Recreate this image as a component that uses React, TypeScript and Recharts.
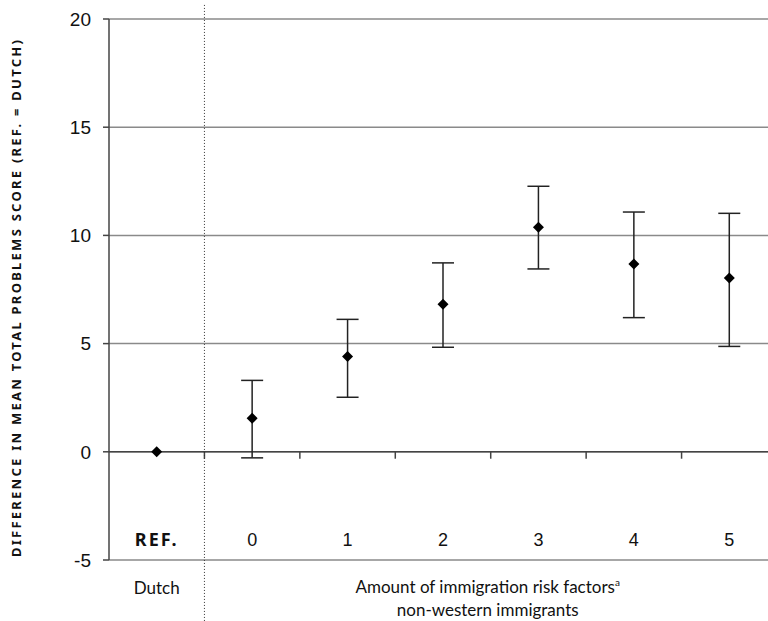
import React from "react";
import {
  ComposedChart,
  Scatter,
  XAxis,
  YAxis,
  CartesianGrid,
  ReferenceLine,
  ErrorBar,
} from "recharts";

// categories (x positions 0..6)
const categoryLabels = ["REF.", "0", "1", "2", "3", "4", "5"];
const categoryPositions = [0, 1, 2, 3, 4, 5, 6];

// reference group (Dutch)
const refValues = [0];

// non-western immigrants by amount of immigration risk factors
const groupMeans = [1.55, 4.4, 6.82, 10.38, 8.68, 8.03];
const groupLower = [-0.28, 2.52, 4.83, 8.45, 6.2, 4.87];
const groupUpper = [3.3, 6.12, 8.73, 12.27, 11.08, 11.02];

const yTicks = [-5, 0, 5, 10, 15, 20];
const boundaries = [0.5, 1.5, 2.5, 3.5, 4.5, 5.5];

const yAxisTitle = "DIFFERENCE IN MEAN TOTAL PROBLEMS SCORE (REF. = DUTCH)";
const refGroupLabel = "Dutch";
const groupTitleLine1 = "Amount of immigration risk factors";
const groupTitleSup = "a";
const groupTitleLine2 = "non-western immigrants";

const refData = refValues.map((v, i) => ({ x: categoryPositions[i], y: v }));
const groupData = groupMeans.map((m, i) => ({
  x: categoryPositions[i + 1],
  y: m,
  err: [m - groupLower[i], groupUpper[i] - m],
}));

const Diamond = (props: any) => {
  const { cx, cy } = props;
  if (cx == null || cy == null) return null;
  const r = 5.5;
  return (
    <polygon
      points={`${cx},${cy - r} ${cx + r},${cy} ${cx},${cy + r} ${cx - r},${cy}`}
      fill="#000"
    />
  );
};

const XTick = (props: any) => {
  const { x, y, payload } = props;
  const label = categoryLabels[payload.value];
  const isRef = payload.value === 0;
  return (
    <g>
      <text
        x={x}
        y={y - 22}
        textAnchor="middle"
        fontFamily={isRef ? "'Noto Sans', sans-serif" : "'Liberation Sans', Arial, sans-serif"}
        fontWeight={isRef ? 700 : 400}
        letterSpacing={isRef ? 2 : 0}
        fontSize={18}
        fill="#111"
      >
        {label}
      </text>
      {isRef && (
        <text
          x={x}
          y={y + 26}
          textAnchor="middle"
          fontFamily="Lato, sans-serif"
          fontSize={17}
          fill="#111"
        >
          {refGroupLabel}
        </text>
      )}
    </g>
  );
};

const GroupTitle = (props: any) => {
  const vb = props.viewBox;
  if (!vb) return null;
  const cx = vb.x + (vb.width * 4) / 7 - 3;
  return (
    <g fontFamily="Lato, sans-serif" fontSize={17} fill="#111">
      <text x={cx} y={vb.y + 33} textAnchor="middle">
        {groupTitleLine1}
        <tspan fontSize={10} dy={-7}>{groupTitleSup}</tspan>
      </text>
      <text x={cx} y={vb.y + 56} textAnchor="middle">
        {groupTitleLine2}
      </text>
    </g>
  );
};

const YTitle = (props: any) => {
  const vb = props.viewBox;
  if (!vb) return null;
  const x = vb.x + 21;
  const y = vb.y + vb.height / 2 + 8;
  return (
    <text
      transform={`translate(${x},${y}) rotate(-90)`}
      textAnchor="middle"
      fontFamily="'Noto Sans', sans-serif"
      fontWeight={700}
      fontSize={13}
      letterSpacing={2.25}
      fill="#111"
    >
      {yAxisTitle}
    </text>
  );
};

export default function App() {
  return (
    <div style={{ position: "absolute", left: 0, top: 0, width: 768, height: 621, overflow: "hidden", background: "#fff" }}>
      <ComposedChart
        width={790}
        height={621}
        margin={{ top: 19, right: 13, bottom: 0, left: 0 }}
      >
        <CartesianGrid vertical={false} stroke="#8a8a8a" strokeWidth={1.5} />
        <XAxis
          type="number"
          dataKey="x"
          domain={[-0.5, 6.5]}
          ticks={categoryPositions}
          axisLine={false}
          tickLine={false}
          tick={<XTick />}
          interval={0}
          height={61}
          label={<GroupTitle />}
        />
        <YAxis
          type="number"
          dataKey="y"
          domain={[-5, 20]}
          ticks={yTicks}
          width={109}
          axisLine={{ stroke: "#444", strokeWidth: 1.5 }}
          tickLine={{ stroke: "#444", strokeWidth: 1.5 }}
          tickSize={6}
          tickMargin={12}
          tick={{ fontFamily: "'Liberation Sans', Arial, sans-serif", fontSize: 19, fill: "#111" }}
          label={<YTitle />}
        />
        <ReferenceLine y={0} stroke="#444" strokeWidth={1.5} />
        {boundaries.map((b) => (
          <ReferenceLine
            key={b}
            segment={[{ x: b, y: 0 }, { x: b, y: -0.32 }]}
            stroke="#444"
            strokeWidth={1.5}
          />
        ))}
        <ReferenceLine
          segment={[{ x: 0.5, y: 20.65 }, { x: 0.5, y: -8 }]}
          ifOverflow="visible"
          stroke="#333"
          strokeWidth={1}
          strokeDasharray="1 2"
        />
        <Scatter data={refData} shape={<Diamond />} isAnimationActive={false} />
        <Scatter data={groupData} shape={<Diamond />} isAnimationActive={false}>
          <ErrorBar dataKey="err" direction="y" width={11} stroke="#222" strokeWidth={1.5} />
        </Scatter>
      </ComposedChart>
    </div>
  );
}
